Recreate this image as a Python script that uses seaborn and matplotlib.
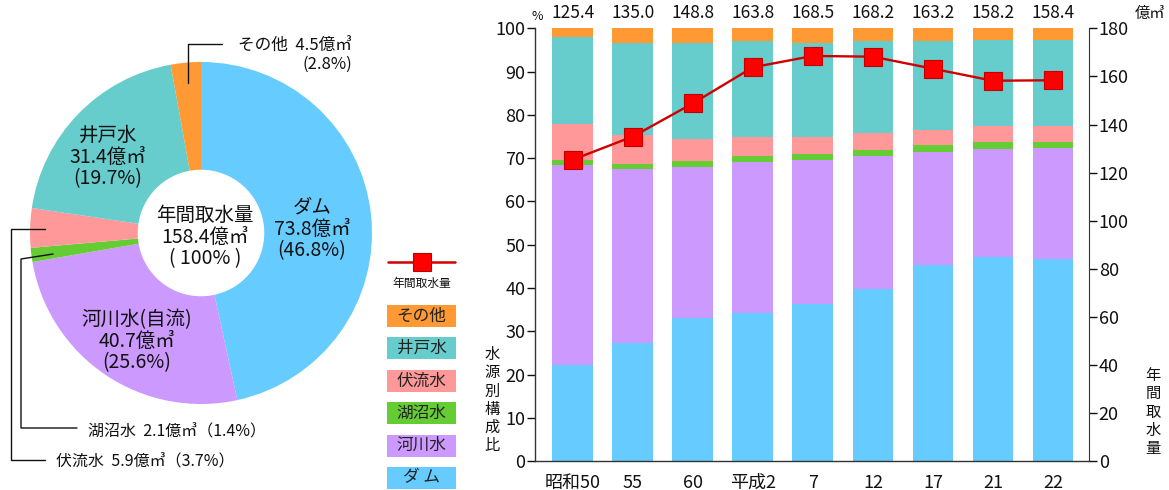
import numpy as np
import pandas as pd
import matplotlib
matplotlib.use("Agg")
import matplotlib.pyplot as plt
from matplotlib.patches import Rectangle
from matplotlib.lines import Line2D
import seaborn as sns

# 年度
years = ["昭和50", "55", "60", "平成2", "7", "12", "17", "21", "22"]

# 水源別構成比 (%)
dam = [22.2, 27.4, 33.0, 34.2, 36.3, 39.7, 45.3, 47.1, 46.8]
river = [46.3, 40.0, 35.0, 34.9, 33.2, 30.8, 26.2, 25.0, 25.6]
lake = [1.0, 1.2, 1.4, 1.5, 1.4, 1.3, 1.5, 1.7, 1.4]
subsurface = [8.5, 6.7, 5.0, 4.2, 3.9, 4.0, 3.5, 3.6, 3.7]
well = [19.9, 21.2, 22.2, 22.3, 21.8, 21.3, 20.6, 20.0, 19.7]
other = [2.1, 3.5, 3.4, 2.9, 3.4, 2.9, 2.9, 2.6, 2.8]

# 年間取水量 (億㎥)
totals = [125.4, 135.0, 148.8, 163.8, 168.5, 168.2, 163.2, 158.2, 158.4]

# 平成22年の水源別内訳
pie_names = ["ダム", "河川水(自流)", "湖沼水", "伏流水", "井戸水", "その他"]
pie_amounts = [73.8, 40.7, 2.1, 5.9, 31.4, 4.5]
pie_pcts = [46.8, 25.6, 1.4, 3.7, 19.7, 2.8]

legend_labels = ["その他", "井戸水", "伏流水", "湖沼水", "河川水", "ダ ム"]

C_DAM, C_RIVER, C_LAKE = "#66CCFF", "#CC99FF", "#66CC33"
C_SUB, C_WELL, C_OTHER = "#FF9999", "#66CCCC", "#FF9933"
layer_colors = [C_DAM, C_RIVER, C_LAKE, C_SUB, C_WELL, C_OTHER]
LINE_C, MARK_C = "#D00000", "#FF0000"

sns.set_style("ticks")
plt.rcParams["font.family"] = ["Noto Sans CJK JP", "DejaVu Sans"]
plt.rcParams["text.color"] = "#111111"

W, H = 1169, 490
fig = plt.figure(figsize=(W / 100, H / 100), dpi=100)


def fx(px):
    return px / W


def fy(py):
    return 1 - py / H


# ---------------- 積み上げ棒グラフ ----------------
ax = fig.add_axes([fx(535), fy(461.3), (1089 - 535) / W, (461.3 - 28.3) / H])

layers = [dam, river, lake, subsurface, well, other]
cum = np.cumsum(np.array(layers), axis=0)
for i in range(len(layers) - 1, -1, -1):
    df = pd.DataFrame({"year": years, "top": cum[i]})
    sns.barplot(data=df, x="year", y="top", order=years, color=layer_colors[i],
                width=0.68, saturation=1, linewidth=0, errorbar=None, ax=ax)

ax.set_ylim(0, 100)
ax.set_yticks(np.arange(0, 101, 10))
ax.set_xlabel("")
ax.set_ylabel("")
ax.tick_params(axis="y", direction="out", length=6, width=1, pad=1,
               labelsize=13, colors="#111111")
ax.tick_params(axis="x", length=0, pad=9, labelsize=13, colors="#111111")
for s in ["top", "right"]:
    ax.spines[s].set_visible(False)
for s in ["left", "bottom"]:
    ax.spines[s].set_color("#333333")
    ax.spines[s].set_linewidth(1)

ax2 = ax.twinx()
sns.lineplot(x=np.arange(len(totals)), y=totals, ax=ax2, color=LINE_C,
             linewidth=1.7, marker="s", markersize=12.5,
             markerfacecolor=MARK_C, markeredgecolor="#C00000",
             markeredgewidth=0.8)
ax2.set_ylim(0, 180)
ax2.set_yticks(np.arange(0, 181, 20))
ax2.set_ylabel("")
ax2.tick_params(axis="y", direction="out", length=6, width=1, pad=1,
                labelsize=13, colors="#111111")
for s in ["top", "left", "bottom"]:
    ax2.spines[s].set_visible(False)
ax2.spines["right"].set_color("#333333")
ax.set_xlim(-0.63, 8.6)
ax2.set_xlim(-0.63, 8.6)

# 各年度の取水量を棒の上に表示
for i, t in enumerate(totals):
    ax.text(i, 101.5, f"{t:.1f}", ha="center", va="bottom", fontsize=12.5,
            clip_on=False)

fig.text(fx(537), fy(16), "%", ha="center", va="center", fontsize=9)
fig.text(fx(1150), fy(13), "億㎥", ha="center", va="center", fontsize=11)
fig.text(fx(492), fy(400), "\n".join("水源別構成比"), ha="center",
         va="center", fontsize=11, linespacing=1.08)
fig.text(fx(1153), fy(412), "\n".join("年間取水量"), ha="center",
         va="center", fontsize=11, linespacing=1.08)

# ---------------- 凡例 ----------------
axl = fig.add_axes([fx(380), 0, 90 / W, 1])
axl.set_xlim(380, 470)
axl.set_ylim(490, 0)
axl.axis("off")
axl.add_line(Line2D([388, 455], [262, 262], color=LINE_C, lw=1.8))
axl.add_line(Line2D([421.5], [262], marker="s", markersize=12.5,
                    markerfacecolor=MARK_C, markeredgecolor="#C00000",
                    markeredgewidth=0.8))
axl.text(421.5, 283, "年間取水量", ha="center", va="center", fontsize=8.5)
legend_colors = [C_OTHER, C_WELL, C_SUB, C_LAKE, C_RIVER, C_DAM]
for k, (lab, c) in enumerate(zip(legend_labels, legend_colors)):
    top = 305 + 32.4 * k
    axl.add_patch(Rectangle((387, top), 69, 22, facecolor=c, edgecolor="none"))
    axl.text(421.5, top + 11, lab, ha="center", va="center", fontsize=12,
             color="#222222")

# ---------------- 円グラフ ----------------
CX, CY, R = 201, 233, 171
axp = fig.add_axes([0, 0, 380 / W, 1])


def P(px, py):
    return ((px - CX) / R, (CY - py) / R)


axp.pie(pie_amounts, colors=layer_colors, startangle=90, counterclock=False,
        radius=1, wedgeprops=dict(width=0.63, linewidth=0))
axp.set_aspect("auto")
axp.set_xlim((0 - CX) / R, (380 - CX) / R)
axp.set_ylim((CY - H) / R, (CY - 0) / R)
axp.axis("off")

total_amount = sum(pie_amounts)
axp.text(*P(205, 237), f"年間取水量\n{total_amount:.1f}億㎥\n( 100% )",
         ha="center", va="center", fontsize=14, linespacing=1.05)
axp.text(*P(312, 229), f"{pie_names[0]}\n{pie_amounts[0]}億㎥\n({pie_pcts[0]}%)",
         ha="center", va="center", fontsize=14, linespacing=1.05)
axp.text(*P(108, 157), f"{pie_names[4]}\n{pie_amounts[4]}億㎥\n({pie_pcts[4]}%)",
         ha="center", va="center", fontsize=14, linespacing=1.05)
axp.text(*P(137, 341), f"{pie_names[1]}\n{pie_amounts[1]}億㎥\n({pie_pcts[1]}%)",
         ha="center", va="center", fontsize=14, linespacing=1.05)
axp.text(*P(352, 55), f"{pie_names[5]}  {pie_amounts[5]}億㎥\n({pie_pcts[5]}%)",
         ha="right", va="center", fontsize=12, linespacing=1.1,
         multialignment="right")
axp.text(*P(88, 432), f"{pie_names[2]}  {pie_amounts[2]}億㎥（{pie_pcts[2]}%）",
         ha="left", va="center", fontsize=11.5)
axp.text(*P(56, 462), f"{pie_names[3]}  {pie_amounts[3]}億㎥（{pie_pcts[3]}%）",
         ha="left", va="center", fontsize=11.5)


def leader(points):
    xs, ys = zip(*[P(a, b) for a, b in points])
    axp.plot(xs, ys, color="#111111", lw=1, clip_on=False)


leader([(188, 83), (188, 44), (222, 44)])
leader([(53, 254), (21, 259), (21, 428), (77, 428)])
leader([(45, 229), (11, 229), (11, 460), (45, 460)])

fig.savefig("out.png", dpi=100)
